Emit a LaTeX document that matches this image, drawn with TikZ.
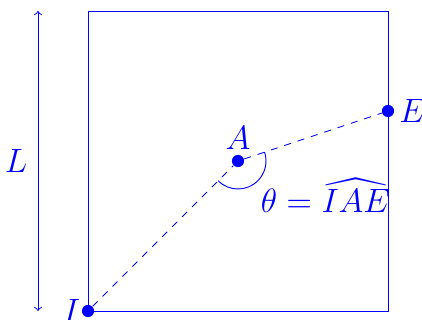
\documentclass[tikz,border=0pt]{standalone}
\usepackage{amsmath,amssymb}
\usepackage{tikz}
\usetikzlibrary{arrows.meta}

\begin{document}
\begin{tikzpicture}[blue, >=to, font=\fontsize{13.5}{16}\selectfont,
        pt/.style={circle, fill=blue, inner sep=0pt, minimum size=5.2pt}]
      \useasboundingbox (-1.32,-0.135) rectangle (5.01,4.665);
      \draw (0,0) rectangle (4.5,4.5);
      \node[pt, label={[label distance=-3pt]left:$I$}] (I) at (0,0) {};
      \node[pt, label={[label distance=-1.5pt]above:$A$}] (A) at (2.25,2.25) {};
      \node[pt, label={[label distance=-1.5pt]right:$E$}] (E) at (4.5,3) {};
      \draw[dashed] (I) -- (A) -- (E);
      \draw (A.center) ++(225:0.42) arc[start angle=225, end angle=378.4, radius=0.42];
      \node (th) at (3.56,1.73) {$\theta=\widehat{IAE}$};
      \coordinate (Lb) at (-0.75,0);
      \coordinate (Lt) at (-0.75,4.5);
      \draw[<->] (Lb) -- node[left=1pt] (L) {$L$} (Lt);
    \end{tikzpicture}
\end{document}
